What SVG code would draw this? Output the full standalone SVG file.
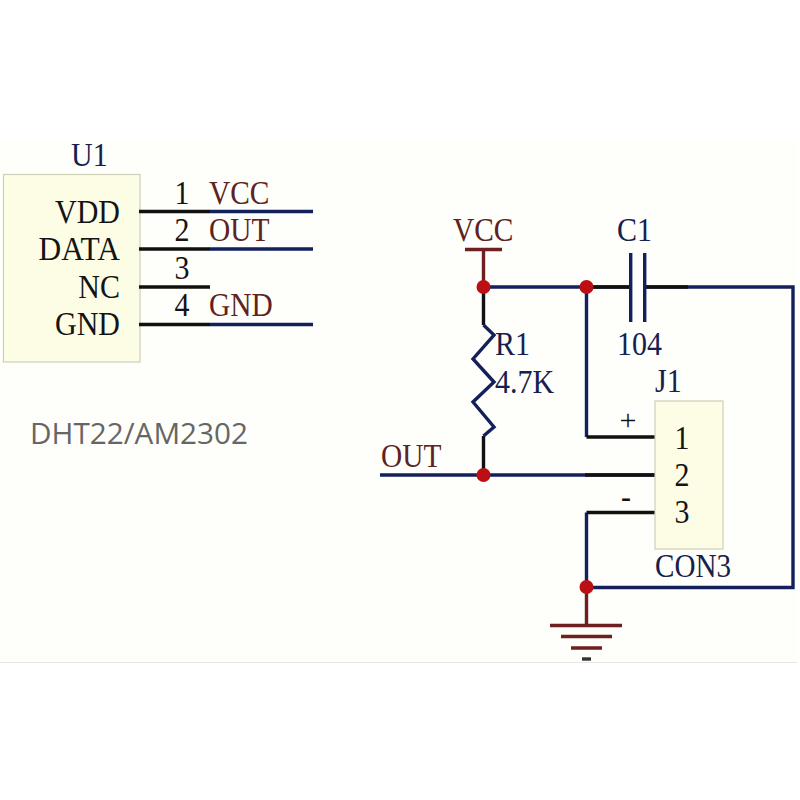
<svg xmlns="http://www.w3.org/2000/svg" width="800" height="800" viewBox="0 0 800 800">
<defs>
<style>
text{font-family:"Liberation Serif","Times New Roman",serif;font-size:30px}
.k{fill:#141414}.n{fill:#16204f}.r{fill:#5e2222}
.box{fill:#fdfde6;stroke:#cfcfb8;stroke-width:1.2}
.wn{stroke:#14205c;stroke-width:3.4;fill:none}
.wk{stroke:#111;stroke-width:3.4;fill:none}
.wr{stroke:#6e1f1f;stroke-width:3.4;fill:none}
.dot{fill:#bb0f14}
</style>
</defs>
<rect width="800" height="800" fill="#fff"/>
<rect x="0" y="140" width="797" height="522" fill="#fefefa"/>
<path d="M0 662.500H797" stroke="#e6e6e6" stroke-width="1"/>
<g id="U1">
<rect class="box" x="3.500" y="174.500" width="136.500" height="187.500"/>
<text class="n" transform="translate(71 166) scale(1 1.12)">U1</text>
<g class="k" text-anchor="end">
<text transform="translate(120 223) scale(1 1.12)">VDD</text>
<text transform="translate(120 260) scale(1.05 1.12)">DATA</text>
<text transform="translate(120 298) scale(1 1.12)">NC</text>
<text transform="translate(120 335) scale(1 1.12)">GND</text>
</g>
<g class="k" text-anchor="middle">
<text transform="translate(182 204) scale(1 1.12)">1</text>
<text transform="translate(182 241) scale(1 1.12)">2</text>
<text transform="translate(182 279) scale(1 1.12)">3</text>
<text transform="translate(182 316) scale(1 1.12)">4</text>
</g>
<g class="r">
<text transform="translate(209 204) scale(.98 1.12)">VCC</text>
<text transform="translate(209 241) scale(.98 1.12)">OUT</text>
<text transform="translate(209 316) scale(.98 1.12)">GND</text>
</g>
</g>
<text id="part-name" x="30" y="444" fill="#666" style="font-family:'Open Sans','Liberation Sans',sans-serif;font-size:30px" textLength="218" lengthAdjust="spacingAndGlyphs">DHT22/AM2302</text>
<g id="connectors">
<path class="wk" d="M139 211.500H210M139 249H210M139 287H210M139 324.500H210"/>
<path class="wn" d="M210 211.500H313M210 249H313M210 324.500H313"/>
<path class="wn" d="M483.500 287H630M645 287H793V587.500H586.500"/>
<path class="wk" d="M586 287H630M645 287H688"/>
<path class="wk" d="M483.500 287V325M483.500 436V475"/>
<path class="wn" d="M380 475H656"/>
<path class="wk" d="M585 475H656"/>
<path class="wn" d="M586.500 287V437M586.500 512.500V587.500"/>
<path class="wk" d="M586.500 437H656M586.500 512.500H656"/>
<path class="wr" d="M483.500 250V287M586.500 587.500V625"/>
</g>
<g id="VCC">
<path class="wr" d="M465 249.500H502"/>
<text class="r" transform="translate(453 241) scale(.98 1.12)">VCC</text>
</g>
<g id="OUT">
<text class="r" transform="translate(381 467) scale(.98 1.12)">OUT</text>
</g>
<g id="R1">
<path class="wn" stroke-linejoin="miter" d="M483.500 325L494 335L473 359L494 382L473 402L494 427L483.500 436"/>
<text class="n" transform="translate(495 355) scale(1 1.12)">R1</text>
<text class="n" transform="translate(495 393) scale(1 1.12)">4.7K</text>
</g>
<g id="C1">
<path class="wn" d="M630.700 253V322M644.700 253V322"/>
<text class="n" transform="translate(617 241) scale(1 1.12)">C1</text>
<text class="n" transform="translate(617 355) scale(1 1.12)">104</text>
</g>
<g id="J1">
<rect class="box" x="655" y="401" width="68" height="148"/>
<text class="n" transform="translate(655 392) scale(1 1.12)">J1</text>
<g class="k" text-anchor="middle">
<text transform="translate(682 449) scale(1 1.12)">1</text>
<text transform="translate(682 486) scale(1 1.12)">2</text>
<text transform="translate(682 523) scale(1 1.12)">3</text>
<text x="628" y="430">+</text>
<text x="626" y="507" font-weight="bold">-</text>
</g>
<text class="n" transform="translate(655 577) scale(.97 1.12)">CON3</text>
</g>
<g id="GND">
<path class="wr" d="M550 625.500H622M561 636.500H612M571 648H602"/>
<path stroke="#333" stroke-width="3.400" d="M582 659H591"/>
</g>
<g id="junctions">
<circle class="dot" cx="483.500" cy="287" r="7"/>
<circle class="dot" cx="586.500" cy="287" r="7"/>
<circle class="dot" cx="483.500" cy="475" r="7"/>
<circle class="dot" cx="586.500" cy="587" r="7"/>
</g>
</svg>
